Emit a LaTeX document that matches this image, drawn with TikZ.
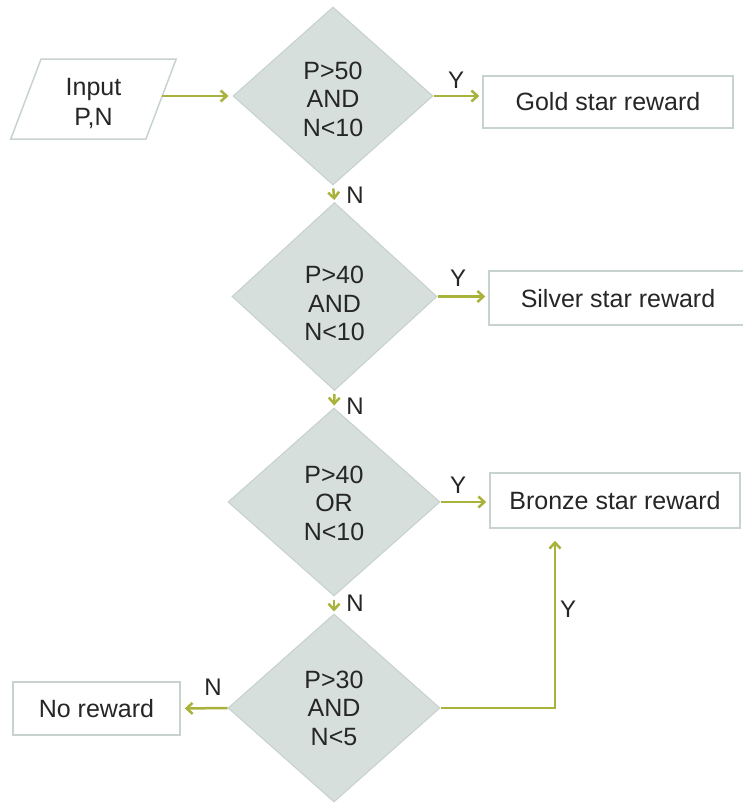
\documentclass[tikz,border=0pt]{standalone}
\usepackage{fontspec}
\setmainfont{Liberation Sans}
\usetikzlibrary{arrows.meta,shapes.geometric}
\definecolor{flowline}{HTML}{A9B23A}
\definecolor{decfill}{HTML}{D6DFDC}
\definecolor{decdraw}{HTML}{C6D1CD}
\definecolor{boxdraw}{HTML}{C8D3CF}
\tikzset{
  decision/.style={diamond, draw=decdraw, fill=decfill, line width=1pt,
    minimum width=#1, minimum height=188pt, inner sep=0pt,
    font=\fontsize{25}{28.5}\selectfont, text=black!85},
  decision/.default=206pt,
  outbox/.style={rectangle, draw=boxdraw, line width=1.5pt, fill=white,
    minimum width=#1, minimum height=54pt, inner sep=0pt,
    font=\fontsize{25}{30}\selectfont, text=black!85},
  inbox/.style={trapezium, trapezium left angle=75, trapezium right angle=105,
    trapezium stretches=true, draw=boxdraw, line width=1.5pt, fill=white,
    minimum width=167pt, minimum height=80pt, inner sep=0pt,
    font=\fontsize{25}{30}\selectfont, text=black!85},
  edge/.style={-{Straight Barb[length=6pt,width=11pt,line width=2.5pt]},
    draw=flowline, line width=2.5pt},
  lbl/.style={font=\fontsize{24}{24}\selectfont, text=black!85, inner sep=0pt}
}
% centred lines, dropped a little below the middle of the node
\newcommand{\dlines}[2][0pt]{\raisebox{-#1}[\height][\depth]{%
  \begin{tabular}{@{}c@{}}#2\end{tabular}}}
\begin{document}
\begin{tikzpicture}[x=1pt,y=-1pt]
  \useasboundingbox (0,0) rectangle (742,803);
  % input and the four tests
  \node[inbox] (in) at (93.5,99) {\dlines[5pt]{Input\\P,N}};
  \node[decision=200pt, minimum height=178pt] (d1) at (333,96) {\dlines[6pt]{P>50\\AND\\N<10}};
  \node[decision=205pt] (d2) at (334.5,296.5) {\dlines[10pt]{P>40\\AND\\N<10}};
  \node[decision=212pt] (d3) at (334,502) {\dlines[4pt]{P>40\\OR\\N<10}};
  \node[decision=212pt] (d4) at (334,708) {\dlines[3pt]{P>30\\AND\\N<5}};

  % outcomes
  \node[outbox=250pt, minimum height=52pt] (gold) at (608,102) {Gold star reward};
  \node[outbox=258pt] (silver) at (618,298) {\dlines[3pt]{Silver star reward}};
  \node[outbox=250pt, minimum height=55pt] (bronze) at (615,500.5) {Bronze star reward};
  \node[outbox=167pt, minimum height=53pt] (none) at (96.5,708.5) {No reward};
  \coordinate (bend) at (555,708);

  \draw[edge, shorten >=4pt] (in.east |- d1.west) -- (d1.west);
  \draw[edge, shorten >=3pt] (d1.east) -- (d1.east -| gold.west);
  \draw[edge, shorten >=3pt] (d2.east) -- (d2.east -| silver.west);
  \draw[edge, shorten >=3pt] (d3.east) -- (d3.east -| bronze.west);
  \draw[edge, shorten >=4pt] (d4.west) -- (none.east);
  \draw[edge, shorten >=12pt] (d4.east) -- (bend) -- (bend |- bronze.south);
  \draw[edge, shorten <=3pt, shorten >=2pt] (d1.south) -- (d2.north);
  \draw[edge, shorten <=3pt, shorten >=2pt] (d2.south) -- (d3.north);
  \draw[edge, shorten <=3pt, shorten >=2pt] (d3.south) -- (d4.north);

  % branch labels
  \node[lbl] (y1) at (456,80) {Y};
  \node[lbl] (y2) at (458,278) {Y};
  \node[lbl] (y3) at (458,485) {Y};
  \node[lbl] (y4) at (568,609) {Y};
  \node[lbl] (n1) at (355,195) {N};
  \node[lbl] (n2) at (355,406) {N};
  \node[lbl] (n3) at (355,603) {N};
  \node[lbl] (n4) at (213,687) {N};
\end{tikzpicture}
\end{document}
